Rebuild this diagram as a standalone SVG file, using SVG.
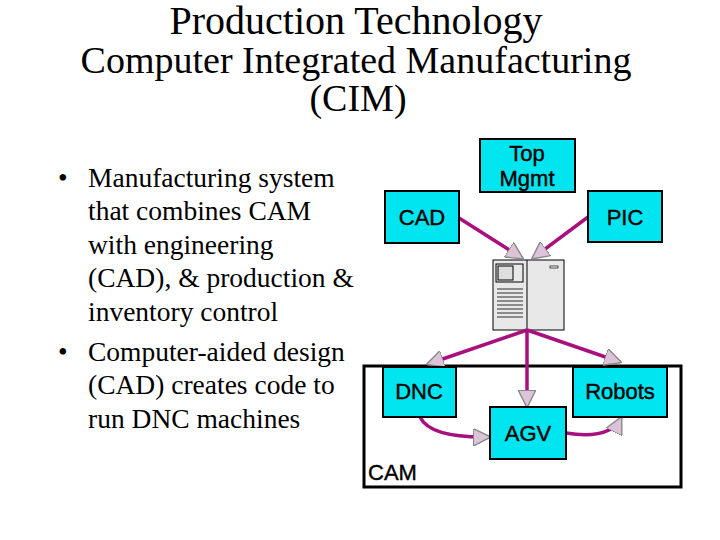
<svg xmlns="http://www.w3.org/2000/svg" width="720" height="540" viewBox="0 0 720 540">
<style>
.t{font-family:"Liberation Serif",serif;fill:#000}
.n{fill:#00e5f0;stroke:#000;stroke-width:2}
.l{font-family:"Liberation Sans",Arial,sans-serif;font-size:22px;text-anchor:middle;fill:#000;stroke:#000;stroke-width:0.4}
.c{fill:none;stroke:#a8107e;stroke-width:3.5}
</style>
<defs>
<marker id="a" viewBox="0 0 10 10" refX="9" refY="5" markerWidth="5" markerHeight="5" orient="auto" markerUnits="strokeWidth">
<path d="M0,0 L10,5 L0,10 z" fill="#dcc4d8" stroke="#888" stroke-width="0.8"/>
</marker>
</defs>
<rect width="720" height="540" fill="#fff"/>
<g id="title">
<text class="t" x="356" y="34" font-size="40" text-anchor="middle">Production Technology</text>
<text class="t" x="356" y="73" font-size="38" text-anchor="middle">Computer Integrated Manufacturing</text>
<text class="t" x="358" y="111" font-size="38" text-anchor="middle">(CIM)</text>
</g>
<g id="bullets" class="t" font-size="27.5">
<text x="58" y="187">•</text>
<text x="88" y="187">Manufacturing system</text>
<text x="88" y="220">that combines CAM</text>
<text x="88" y="254">with engineering</text>
<text x="88" y="287">(CAD), &amp; production &amp;</text>
<text x="88" y="321">inventory control</text>
<text x="58" y="361">•</text>
<text x="88" y="361">Computer-aided design</text>
<text x="88" y="394">(CAD) creates code to</text>
<text x="88" y="428">run DNC machines</text>
</g>
<g id="cam">
<rect x="364" y="366" width="317" height="121" fill="none" stroke="#000" stroke-width="3"/>
<text class="l" x="368" y="480" style="text-anchor:start">CAM</text>
</g>
<g id="computer">
<rect x="493" y="260" width="71" height="70" fill="#e8e8e8" stroke="#000" stroke-width="1"/>
<line x1="527" y1="260" x2="527" y2="330" stroke="#000"/>
<rect x="496" y="264" width="27" height="18" fill="none" stroke="#000"/>
<rect x="498" y="266" width="15" height="14" fill="#ddd" stroke="#000"/>
<rect x="550" y="266" width="8" height="2" fill="#fff" stroke="#000" stroke-width="0.7"/>
<path d="M497,289h26M497,293h26M497,297h26M497,301h26M497,305h26M497,309h26M497,313h26M497,317h26" stroke="#000" stroke-width="0.8"/>
</g>
<g id="connectors">
<line class="c" x1="459" y1="218" x2="522" y2="258" marker-end="url(#a)"/>
<line class="c" x1="588" y1="217" x2="533" y2="258" marker-end="url(#a)"/>
<line class="c" x1="527" y1="330" x2="428" y2="364" marker-end="url(#a)"/>
<line class="c" x1="527" y1="330" x2="527" y2="406" marker-end="url(#a)"/>
<line class="c" x1="527" y1="330" x2="620" y2="362" marker-end="url(#a)"/>
<path class="c" d="M420,417 Q430,438 489,437" marker-end="url(#a)"/>
<path class="c" d="M566,433 Q610,440 621,418" marker-end="url(#a)"/>
</g>
<g id="topmgmt"><rect class="n" x="480" y="139" width="95" height="53"/><text class="l" x="527" y="161">Top</text><text class="l" x="527" y="186">Mgmt</text></g>
<g id="cad"><rect class="n" x="385" y="191" width="74" height="52"/><text class="l" x="422" y="225">CAD</text></g>
<g id="pic"><rect class="n" x="588" y="191" width="74" height="51"/><text class="l" x="625" y="225">PIC</text></g>
<g id="dnc"><rect class="n" x="383" y="367" width="73" height="50"/><text class="l" x="419" y="399">DNC</text></g>
<g id="robots"><rect class="n" x="573" y="367" width="94" height="50"/><text class="l" x="620" y="399">Robots</text></g>
<g id="agv"><rect class="n" x="490" y="407" width="76" height="52"/><text class="l" x="528" y="441">AGV</text></g>
</svg>
